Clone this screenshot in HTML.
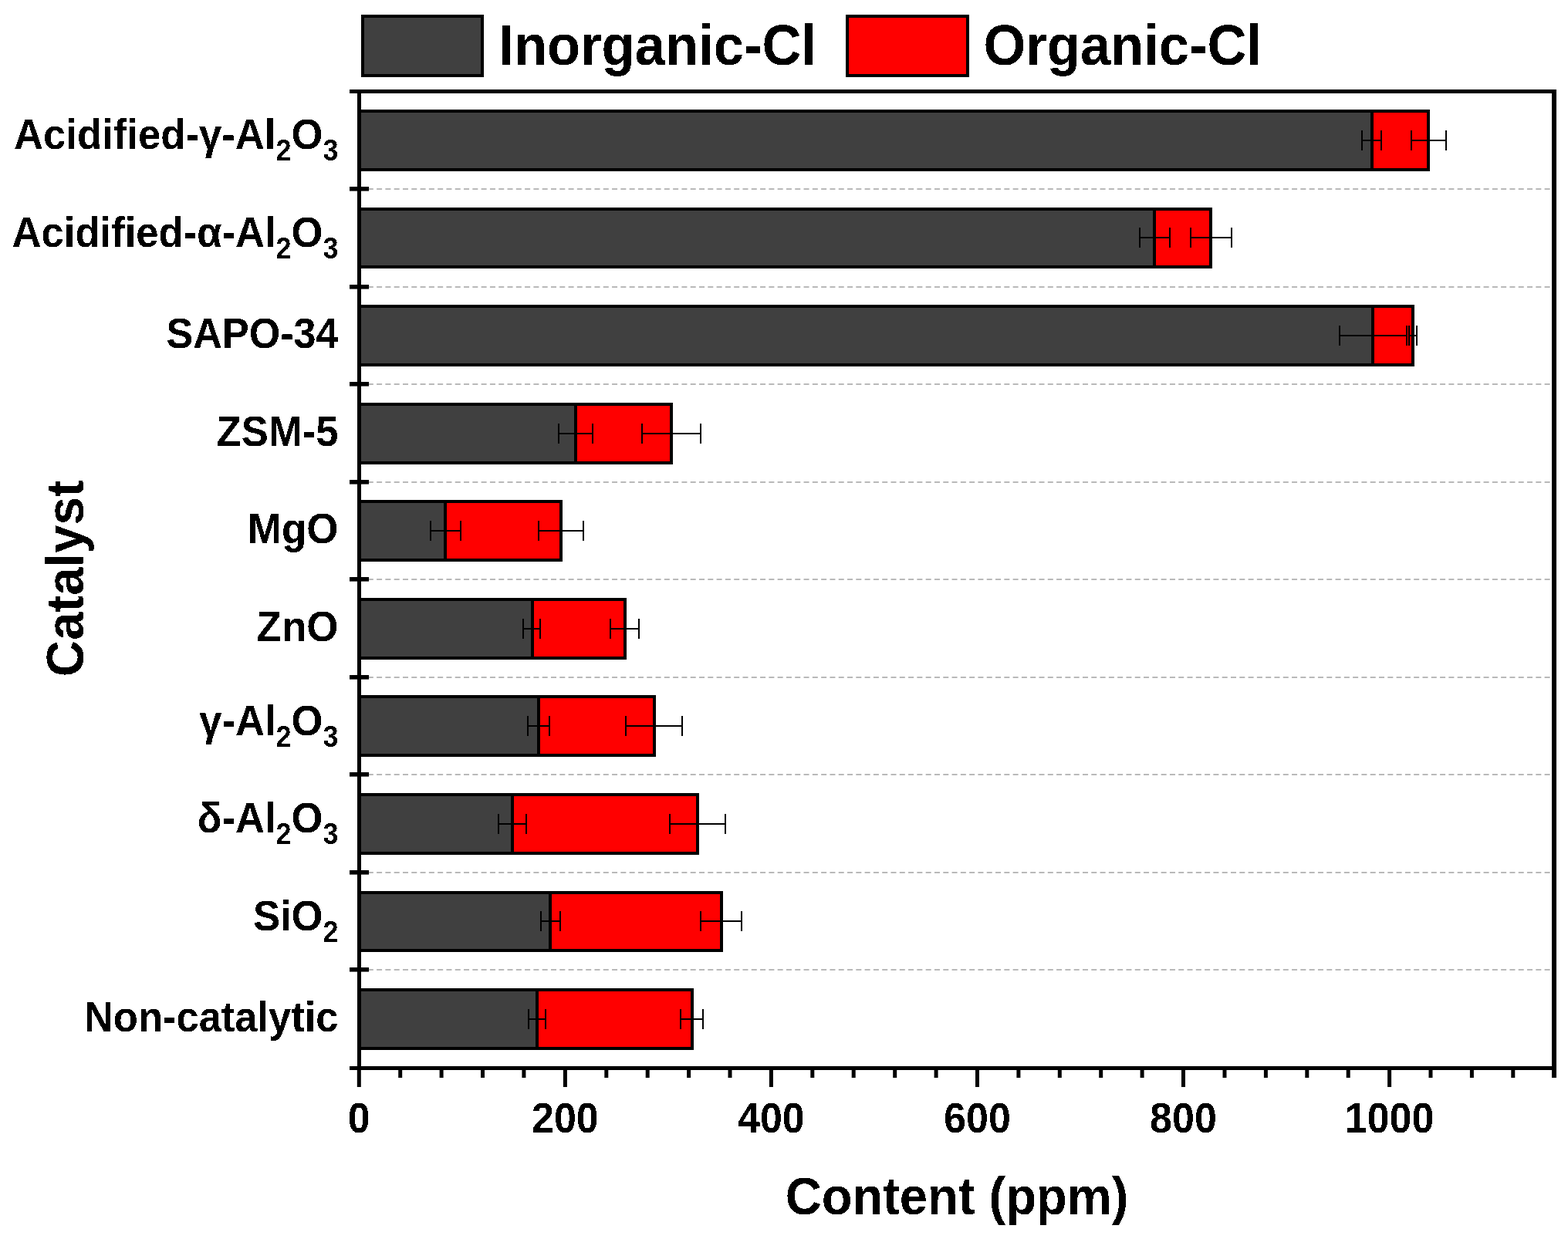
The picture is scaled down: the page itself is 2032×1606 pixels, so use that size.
<!DOCTYPE html><html><head><meta charset="utf-8"><title>Chlorine content by catalyst</title><style>html,body{margin:0;padding:0;background:#fff;width:2032px;height:1606px;overflow:hidden;}svg{display:block;}</style></head><body>
<svg width="2032" height="1606" viewBox="0 0 2032 1606">
<defs><filter id="crisp" x="0" y="0" width="100%" height="100%" color-interpolation-filters="sRGB"><feComponentTransfer><feFuncA type="discrete" tableValues="0 1"/></feComponentTransfer></filter></defs>
<rect x="0" y="0" width="2032" height="1606" fill="#fff"/>
<line x1="465.5" y1="245" x2="2011" y2="245" stroke="#b9b9b9" stroke-width="2" stroke-dasharray="7 4.295"/>
<line x1="465.5" y1="372" x2="2011" y2="372" stroke="#b9b9b9" stroke-width="2" stroke-dasharray="7 4.295"/>
<line x1="465.5" y1="498" x2="2011" y2="498" stroke="#b9b9b9" stroke-width="2" stroke-dasharray="7 4.295"/>
<line x1="465.5" y1="625" x2="2011" y2="625" stroke="#b9b9b9" stroke-width="2" stroke-dasharray="7 4.295"/>
<line x1="465.5" y1="751" x2="2011" y2="751" stroke="#b9b9b9" stroke-width="2" stroke-dasharray="7 4.295"/>
<line x1="465.5" y1="878" x2="2011" y2="878" stroke="#b9b9b9" stroke-width="2" stroke-dasharray="7 4.295"/>
<line x1="465.5" y1="1004" x2="2011" y2="1004" stroke="#b9b9b9" stroke-width="2" stroke-dasharray="7 4.295"/>
<line x1="465.5" y1="1131" x2="2011" y2="1131" stroke="#b9b9b9" stroke-width="2" stroke-dasharray="7 4.295"/>
<line x1="465.5" y1="1257" x2="2011" y2="1257" stroke="#b9b9b9" stroke-width="2" stroke-dasharray="7 4.295"/>
<rect x="465.5" y="144" width="1312.5" height="76" fill="#404040" stroke="#000" stroke-width="4"/>
<rect x="1778" y="144" width="73" height="76" fill="#ff0000" stroke="#000" stroke-width="4"/>
<rect x="465.5" y="271" width="1030.5" height="75" fill="#404040" stroke="#000" stroke-width="4"/>
<rect x="1496" y="271" width="73" height="75" fill="#ff0000" stroke="#000" stroke-width="4"/>
<rect x="465.5" y="397" width="1313.5" height="76" fill="#404040" stroke="#000" stroke-width="4"/>
<rect x="1779" y="397" width="52" height="76" fill="#ff0000" stroke="#000" stroke-width="4"/>
<rect x="465.5" y="524" width="280.5" height="76" fill="#404040" stroke="#000" stroke-width="4"/>
<rect x="746" y="524" width="124" height="76" fill="#ff0000" stroke="#000" stroke-width="4"/>
<rect x="465.5" y="650" width="111.5" height="76" fill="#404040" stroke="#000" stroke-width="4"/>
<rect x="577" y="650" width="150" height="76" fill="#ff0000" stroke="#000" stroke-width="4"/>
<rect x="465.5" y="777" width="224.5" height="76" fill="#404040" stroke="#000" stroke-width="4"/>
<rect x="690" y="777" width="120" height="76" fill="#ff0000" stroke="#000" stroke-width="4"/>
<rect x="465.5" y="903" width="232.5" height="76" fill="#404040" stroke="#000" stroke-width="4"/>
<rect x="698" y="903" width="150" height="76" fill="#ff0000" stroke="#000" stroke-width="4"/>
<rect x="465.5" y="1030" width="198.5" height="76" fill="#404040" stroke="#000" stroke-width="4"/>
<rect x="664" y="1030" width="240" height="76" fill="#ff0000" stroke="#000" stroke-width="4"/>
<rect x="465.5" y="1157" width="247.5" height="75" fill="#404040" stroke="#000" stroke-width="4"/>
<rect x="713" y="1157" width="222" height="75" fill="#ff0000" stroke="#000" stroke-width="4"/>
<rect x="465.5" y="1283" width="230.5" height="76" fill="#404040" stroke="#000" stroke-width="4"/>
<rect x="696" y="1283" width="201" height="76" fill="#ff0000" stroke="#000" stroke-width="4"/>
<path d="M1764 181H1791V183H1764Z M1764 169h2v26h-2Z M1789 169h2v26h-2Z" fill="#000"/>
<path d="M1828 181H1875V183H1828Z M1828 169h2v26h-2Z M1873 169h2v26h-2Z" fill="#000"/>
<path d="M1476 307H1517V309H1476Z M1476 295h2v26h-2Z M1515 295h2v26h-2Z" fill="#000"/>
<path d="M1542 307H1597V309H1542Z M1542 295h2v26h-2Z M1595 295h2v26h-2Z" fill="#000"/>
<path d="M1735 434H1824V436H1735Z M1735 422h2v26h-2Z M1822 422h2v26h-2Z" fill="#000"/>
<path d="M1825 434H1837V436H1825Z M1825 422h2v26h-2Z M1835 422h2v26h-2Z" fill="#000"/>
<path d="M723 561H769V563H723Z M723 549h2v26h-2Z M767 549h2v26h-2Z" fill="#000"/>
<path d="M831 561H909V563H831Z M831 549h2v26h-2Z M907 549h2v26h-2Z" fill="#000"/>
<path d="M557 687H598V689H557Z M557 675h2v26h-2Z M596 675h2v26h-2Z" fill="#000"/>
<path d="M697 687H757V689H697Z M697 675h2v26h-2Z M755 675h2v26h-2Z" fill="#000"/>
<path d="M677 814H701V816H677Z M677 802h2v26h-2Z M699 802h2v26h-2Z" fill="#000"/>
<path d="M790 814H829V816H790Z M790 802h2v26h-2Z M827 802h2v26h-2Z" fill="#000"/>
<path d="M683 940H713V942H683Z M683 928h2v26h-2Z M711 928h2v26h-2Z" fill="#000"/>
<path d="M810 940H885V942H810Z M810 928h2v26h-2Z M883 928h2v26h-2Z" fill="#000"/>
<path d="M645 1067H683V1069H645Z M645 1055h2v26h-2Z M681 1055h2v26h-2Z" fill="#000"/>
<path d="M867 1067H941V1069H867Z M867 1055h2v26h-2Z M939 1055h2v26h-2Z" fill="#000"/>
<path d="M700 1193H727V1195H700Z M700 1181h2v26h-2Z M725 1181h2v26h-2Z" fill="#000"/>
<path d="M907 1193H962V1195H907Z M907 1181h2v26h-2Z M960 1181h2v26h-2Z" fill="#000"/>
<path d="M684 1320H708V1322H684Z M684 1308h2v26h-2Z M706 1308h2v26h-2Z" fill="#000"/>
<path d="M881 1320H912V1322H881Z M881 1308h2v26h-2Z M910 1308h2v26h-2Z" fill="#000"/>
<path d="M453 118.5H2017" stroke="#000" stroke-width="5" fill="none"/>
<path d="M453 1384.5H2017" stroke="#000" stroke-width="5" fill="none"/>
<path d="M465.5 116V1387" stroke="#000" stroke-width="5" fill="none"/>
<path d="M2014 116V1397" stroke="#000" stroke-width="6" fill="none"/>
<rect x="453" y="242" width="25" height="5.6" fill="#000"/>
<rect x="453" y="369" width="25" height="5.6" fill="#000"/>
<rect x="453" y="495" width="25" height="5.6" fill="#000"/>
<rect x="453" y="622" width="25" height="5.6" fill="#000"/>
<rect x="453" y="748" width="25" height="5.6" fill="#000"/>
<rect x="453" y="875" width="25" height="5.6" fill="#000"/>
<rect x="453" y="1001" width="25" height="5.6" fill="#000"/>
<rect x="453" y="1128" width="25" height="5.6" fill="#000"/>
<rect x="453" y="1254" width="25" height="5.6" fill="#000"/>
<line x1="465.3" y1="1384" x2="465.3" y2="1409" stroke="#000" stroke-width="5"/>
<line x1="518.7" y1="1384" x2="518.7" y2="1397" stroke="#000" stroke-width="5"/>
<line x1="572.1" y1="1384" x2="572.1" y2="1397" stroke="#000" stroke-width="5"/>
<line x1="625.5" y1="1384" x2="625.5" y2="1397" stroke="#000" stroke-width="5"/>
<line x1="678.9" y1="1384" x2="678.9" y2="1397" stroke="#000" stroke-width="5"/>
<line x1="732.4" y1="1384" x2="732.4" y2="1409" stroke="#000" stroke-width="5"/>
<line x1="785.8" y1="1384" x2="785.8" y2="1397" stroke="#000" stroke-width="5"/>
<line x1="839.2" y1="1384" x2="839.2" y2="1397" stroke="#000" stroke-width="5"/>
<line x1="892.6" y1="1384" x2="892.6" y2="1397" stroke="#000" stroke-width="5"/>
<line x1="946.0" y1="1384" x2="946.0" y2="1397" stroke="#000" stroke-width="5"/>
<line x1="999.4" y1="1384" x2="999.4" y2="1409" stroke="#000" stroke-width="5"/>
<line x1="1052.8" y1="1384" x2="1052.8" y2="1397" stroke="#000" stroke-width="5"/>
<line x1="1106.2" y1="1384" x2="1106.2" y2="1397" stroke="#000" stroke-width="5"/>
<line x1="1159.7" y1="1384" x2="1159.7" y2="1397" stroke="#000" stroke-width="5"/>
<line x1="1213.1" y1="1384" x2="1213.1" y2="1397" stroke="#000" stroke-width="5"/>
<line x1="1266.5" y1="1384" x2="1266.5" y2="1409" stroke="#000" stroke-width="5"/>
<line x1="1319.9" y1="1384" x2="1319.9" y2="1397" stroke="#000" stroke-width="5"/>
<line x1="1373.3" y1="1384" x2="1373.3" y2="1397" stroke="#000" stroke-width="5"/>
<line x1="1426.7" y1="1384" x2="1426.7" y2="1397" stroke="#000" stroke-width="5"/>
<line x1="1480.1" y1="1384" x2="1480.1" y2="1397" stroke="#000" stroke-width="5"/>
<line x1="1533.5" y1="1384" x2="1533.5" y2="1409" stroke="#000" stroke-width="5"/>
<line x1="1587.0" y1="1384" x2="1587.0" y2="1397" stroke="#000" stroke-width="5"/>
<line x1="1640.4" y1="1384" x2="1640.4" y2="1397" stroke="#000" stroke-width="5"/>
<line x1="1693.8" y1="1384" x2="1693.8" y2="1397" stroke="#000" stroke-width="5"/>
<line x1="1747.2" y1="1384" x2="1747.2" y2="1397" stroke="#000" stroke-width="5"/>
<line x1="1800.6" y1="1384" x2="1800.6" y2="1409" stroke="#000" stroke-width="5"/>
<line x1="1854.0" y1="1384" x2="1854.0" y2="1397" stroke="#000" stroke-width="5"/>
<line x1="1907.4" y1="1384" x2="1907.4" y2="1397" stroke="#000" stroke-width="5"/>
<line x1="1960.8" y1="1384" x2="1960.8" y2="1397" stroke="#000" stroke-width="5"/>
<rect x="470" y="21" width="155" height="77" fill="#404040" stroke="#000" stroke-width="4"/>
<rect x="1098" y="21" width="156" height="77" fill="#ff0000" stroke="#000" stroke-width="4"/>
<g filter="url(#crisp)">
<text x="0" y="0" transform="translate(465.3 1468) scale(1 1.06)" text-anchor="middle" font-size="52" font-family="'Liberation Sans', Arial, sans-serif" font-weight="bold">0</text>
<text x="0" y="0" transform="translate(732.4 1468) scale(1 1.06)" text-anchor="middle" font-size="52" font-family="'Liberation Sans', Arial, sans-serif" font-weight="bold">200</text>
<text x="0" y="0" transform="translate(999.4 1468) scale(1 1.06)" text-anchor="middle" font-size="52" font-family="'Liberation Sans', Arial, sans-serif" font-weight="bold">400</text>
<text x="0" y="0" transform="translate(1266.5 1468) scale(1 1.06)" text-anchor="middle" font-size="52" font-family="'Liberation Sans', Arial, sans-serif" font-weight="bold">600</text>
<text x="0" y="0" transform="translate(1533.5 1468) scale(1 1.06)" text-anchor="middle" font-size="52" font-family="'Liberation Sans', Arial, sans-serif" font-weight="bold">800</text>
<text x="0" y="0" transform="translate(1800.6 1468) scale(1 1.06)" text-anchor="middle" font-size="52" font-family="'Liberation Sans', Arial, sans-serif" font-weight="bold">1000</text>
<text x="0" y="0" transform="translate(438.5 193.2) scale(1 1.06)" text-anchor="end" font-family="'Liberation Sans', Arial, sans-serif" font-weight="bold"><tspan dy="0" font-size="52.7">Acidified-γ-Al</tspan><tspan dy="14" font-size="36.0">2</tspan><tspan dy="-14" font-size="52.7">O</tspan><tspan dy="14" font-size="36.0">3</tspan></text>
<text x="0" y="0" transform="translate(438.5 319.8) scale(1 1.06)" text-anchor="end" font-family="'Liberation Sans', Arial, sans-serif" font-weight="bold"><tspan dy="0" font-size="52.6">Acidified-α-Al</tspan><tspan dy="14" font-size="36.0">2</tspan><tspan dy="-14" font-size="52.6">O</tspan><tspan dy="14" font-size="36.0">3</tspan></text>
<text x="0" y="0" transform="translate(438.5 451.1) scale(1 1.06)" text-anchor="end" font-family="'Liberation Sans', Arial, sans-serif" font-weight="bold"><tspan dy="0" font-size="52.1">SAPO-34</tspan></text>
<text x="0" y="0" transform="translate(438.5 577.7) scale(1 1.06)" text-anchor="end" font-family="'Liberation Sans', Arial, sans-serif" font-weight="bold"><tspan dy="0" font-size="52.6">ZSM-5</tspan></text>
<text x="0" y="0" transform="translate(438.5 704.3) scale(1 1.06)" text-anchor="end" font-family="'Liberation Sans', Arial, sans-serif" font-weight="bold"><tspan dy="0" font-size="53.0">MgO</tspan></text>
<text x="0" y="0" transform="translate(438.5 830.9) scale(1 1.06)" text-anchor="end" font-family="'Liberation Sans', Arial, sans-serif" font-weight="bold"><tspan dy="0" font-size="53.0">ZnO</tspan></text>
<text x="0" y="0" transform="translate(438.5 952.8) scale(1 1.06)" text-anchor="end" font-family="'Liberation Sans', Arial, sans-serif" font-weight="bold"><tspan dy="0" font-size="52.6">γ-Al</tspan><tspan dy="14" font-size="36.0">2</tspan><tspan dy="-14" font-size="52.6">O</tspan><tspan dy="14" font-size="36.0">3</tspan></text>
<text x="0" y="0" transform="translate(438.5 1079.4) scale(1 1.06)" text-anchor="end" font-family="'Liberation Sans', Arial, sans-serif" font-weight="bold"><tspan dy="0" font-size="52.6">δ-Al</tspan><tspan dy="14" font-size="36.0">2</tspan><tspan dy="-14" font-size="52.6">O</tspan><tspan dy="14" font-size="36.0">3</tspan></text>
<text x="0" y="0" transform="translate(438.5 1206.0) scale(1 1.06)" text-anchor="end" font-family="'Liberation Sans', Arial, sans-serif" font-weight="bold"><tspan dy="0" font-size="52.6">Si</tspan><tspan dy="0" font-size="52.6">O</tspan><tspan dy="14" font-size="36.0">2</tspan></text>
<text x="0" y="0" transform="translate(438.5 1337.3) scale(1 1.06)" text-anchor="end" font-family="'Liberation Sans', Arial, sans-serif" font-weight="bold"><tspan dy="0" font-size="52.5">Non-catalytic</tspan></text>
<text x="0" y="0" transform="translate(1240 1574) scale(1 1.06)" text-anchor="middle" font-size="65.1" font-family="'Liberation Sans', Arial, sans-serif" font-weight="bold">Content (ppm)</text>
<text x="0" y="0" transform="translate(107.4 749.7) rotate(-90) scale(1 1.06)" text-anchor="middle" font-size="65.5" font-family="'Liberation Sans', Arial, sans-serif" font-weight="bold">Catalyst</text>
<text x="0" y="0" transform="translate(646.3 84.2) scale(1 1.06)" font-size="70.6" font-family="'Liberation Sans', Arial, sans-serif" font-weight="bold">Inorganic-Cl</text>
<text x="0" y="0" transform="translate(1274.6 83.6) scale(1 1.06)" font-size="70.5" font-family="'Liberation Sans', Arial, sans-serif" font-weight="bold">Organic-Cl</text>
</g>
</svg></body></html>
